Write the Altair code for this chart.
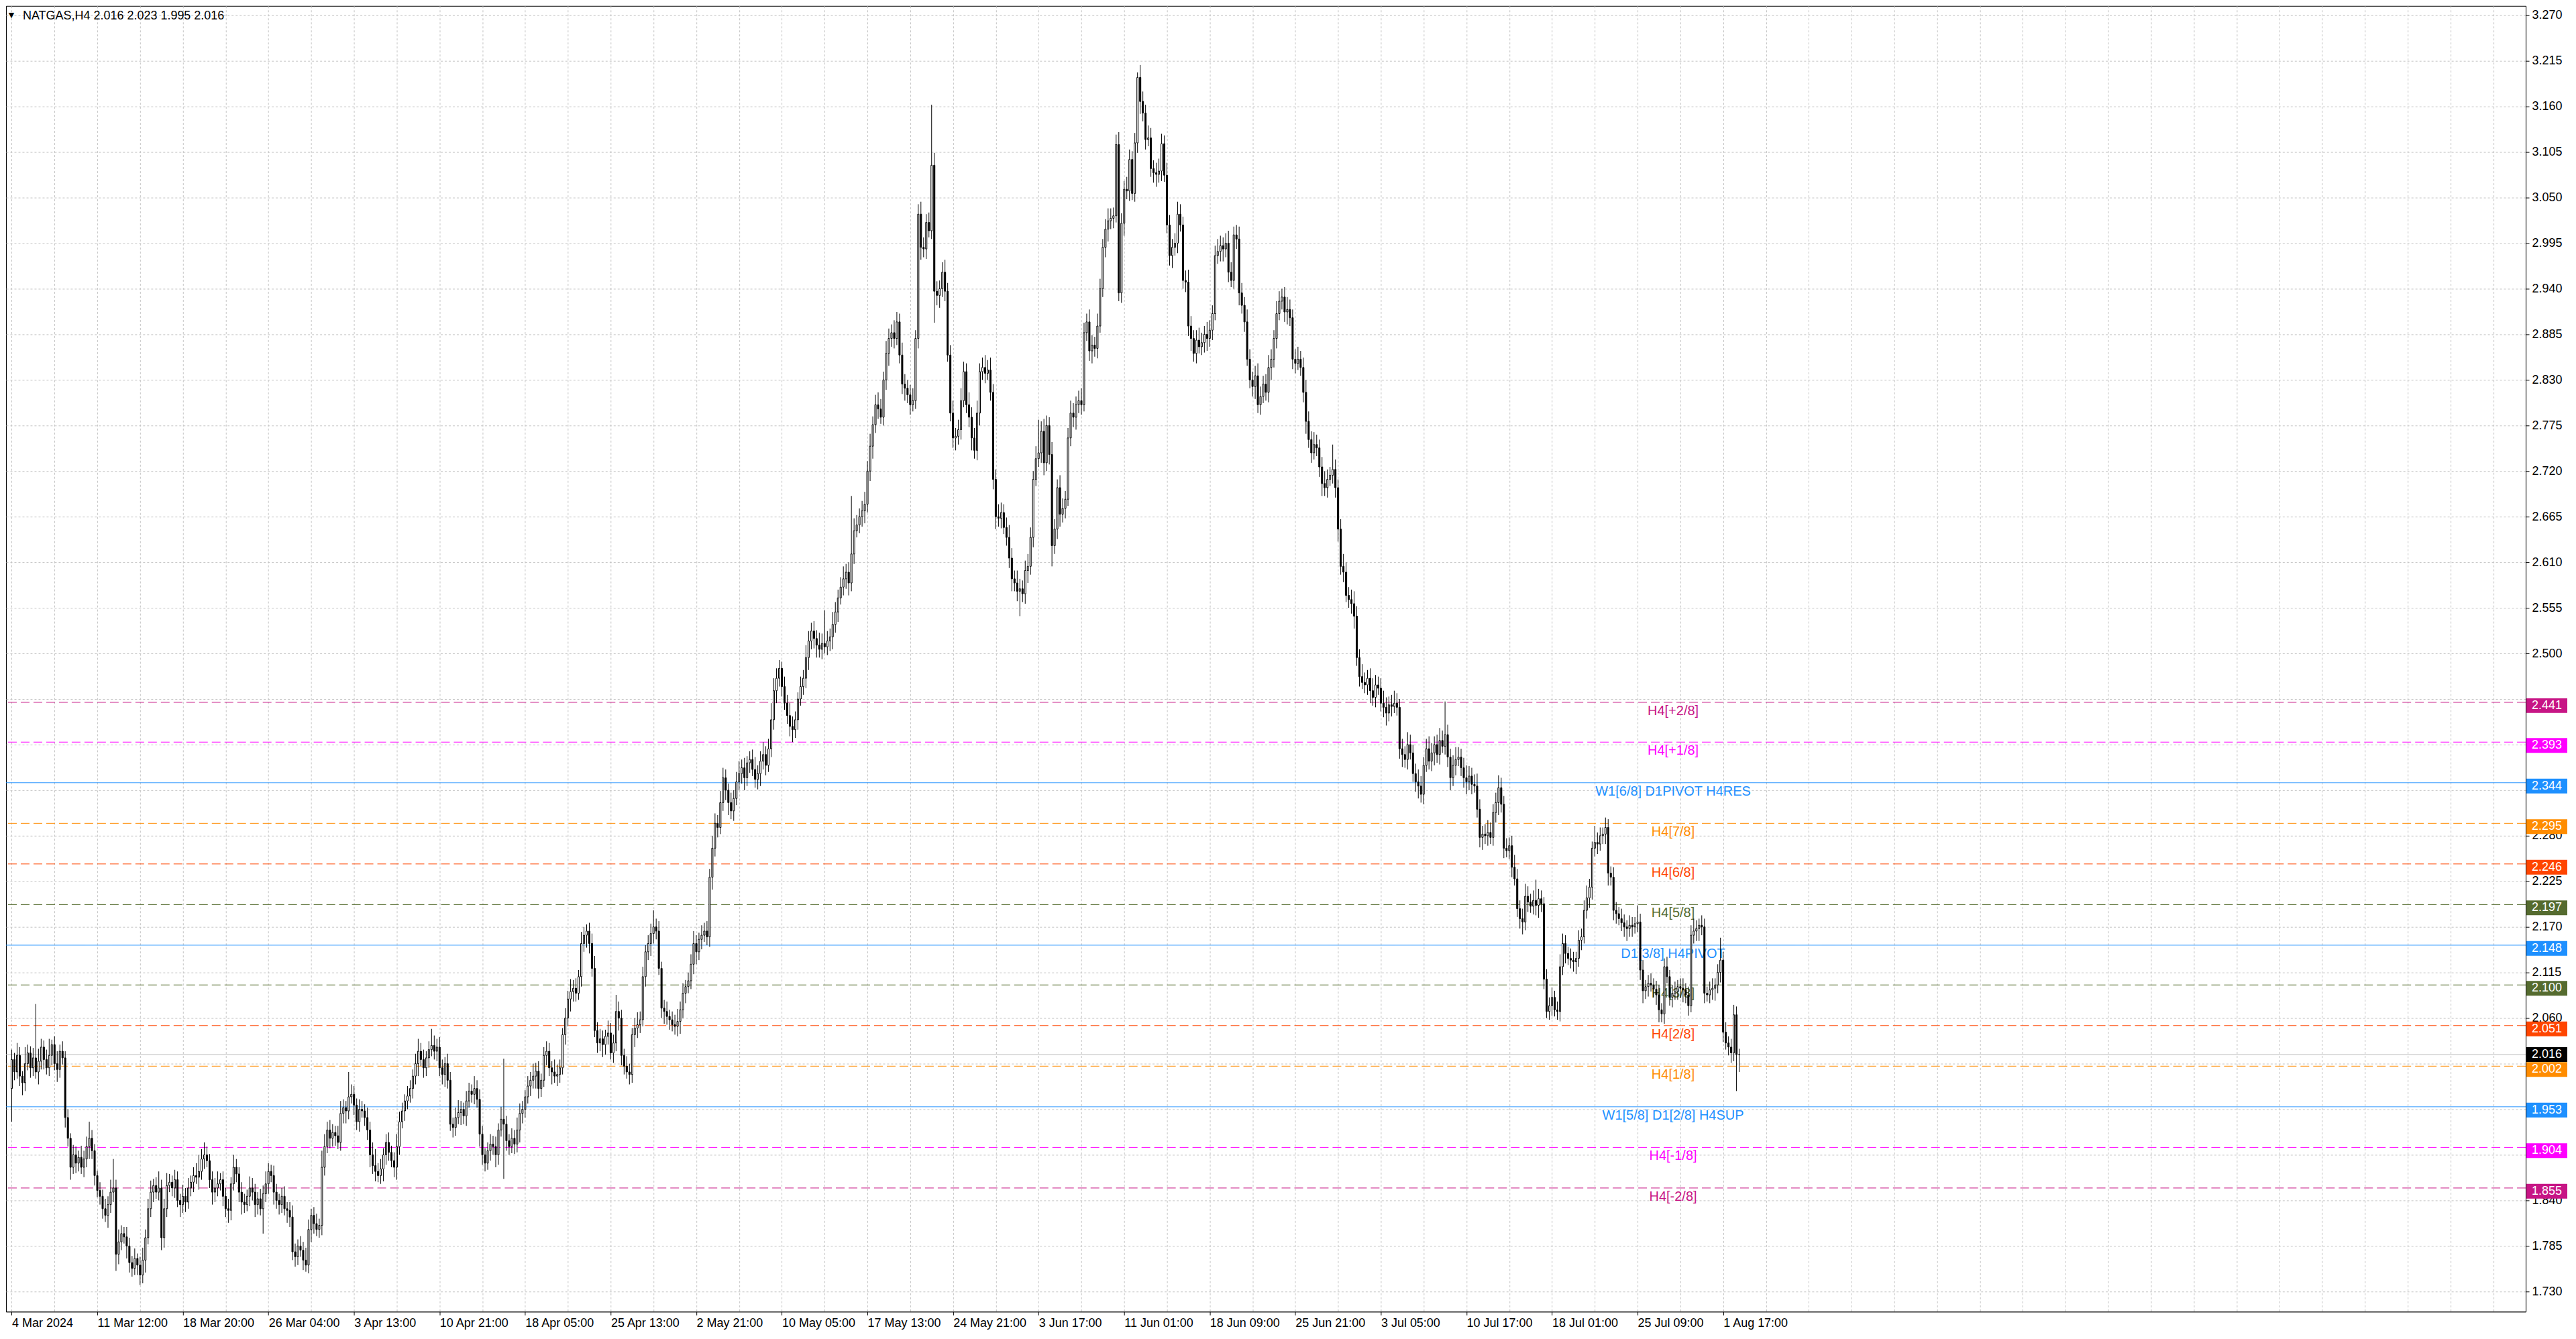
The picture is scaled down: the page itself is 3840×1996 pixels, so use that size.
import json
import altair as alt
import pandas as pd

TITLE = "NATGAS,H4  2.016 2.023 1.995 2.016"
FIRST_OPEN = 1975  # thousandths

# H4 closes (price * 1000)
CLOSES = [
    2010,1995,2015,1990,1982,2005,2018,2000,2012,1995,2008,2025,2010,2000,2015,2028,2005,1998,2020,2012,
    1940,1915,1880,1895,1885,1892,1880,1890,1905,1915,1900,1870,1852,1845,1830,1822,1835,1850,1855,1775,
    1790,1800,1796,1785,1765,1758,1770,1762,1750,1768,1795,1830,1850,1858,1850,1855,1795,1830,1858,1862,
    1855,1865,1840,1835,1845,1838,1855,1862,1870,1868,1875,1890,1895,1888,1865,1850,1855,1860,1865,1845,
    1830,1828,1860,1880,1872,1850,1838,1835,1845,1855,1850,1835,1842,1830,1848,1860,1875,1870,1850,1840,
    1835,1845,1830,1828,1820,1778,1772,1785,1780,1768,1762,1805,1822,1812,1805,1810,1880,1905,1925,1915,
    1922,1918,1910,1945,1952,1948,1965,1968,1955,1935,1950,1948,1940,1925,1895,1882,1875,1870,1878,1895,
    1910,1898,1888,1880,1905,1935,1948,1960,1966,1975,1990,2005,2020,2010,2000,2012,2022,2027,2020,2025,
    2000,1992,2005,1985,1932,1928,1940,1946,1950,1942,1960,1972,1968,1975,1962,1920,1895,1885,1900,1908,
    1905,1895,1925,1938,1932,1912,1905,1915,1908,1925,1945,1950,1965,1978,1985,1990,1996,1975,1985,2015,
    2020,2000,1995,1990,1992,2000,2040,2060,2083,2092,2096,2090,2110,2150,2160,2165,2150,2120,2045,2030,
    2035,2028,2038,2042,2018,2030,2068,2060,2015,2002,1995,1992,2040,2048,2052,2058,2110,2140,2150,2162,
    2170,2165,2120,2072,2068,2062,2058,2052,2050,2056,2070,2090,2098,2105,2125,2150,2140,2155,2160,2165,
    2158,2230,2265,2295,2290,2320,2350,2335,2320,2310,2325,2345,2355,2362,2350,2368,2372,2360,2348,2355,
    2370,2378,2365,2385,2420,2455,2470,2482,2460,2440,2425,2412,2408,2420,2445,2460,2470,2495,2515,2527,
    2518,2510,2505,2512,2508,2515,2520,2535,2550,2567,2580,2590,2598,2585,2620,2648,2655,2665,2672,2680,
    2720,2750,2776,2800,2795,2785,2830,2862,2880,2887,2880,2900,2860,2825,2820,2812,2800,2805,2880,3030,
    2990,2988,3020,3010,3089,2937,2932,2940,2960,2937,2860,2790,2760,2762,2770,2805,2840,2800,2785,2760,
    2745,2790,2840,2845,2838,2842,2815,2710,2665,2663,2670,2652,2640,2615,2590,2585,2575,2578,2572,2600,
    2605,2640,2710,2735,2742,2768,2730,2775,2740,2630,2650,2700,2668,2675,2686,2760,2790,2785,2800,2805,
    2800,2887,2900,2865,2872,2868,2895,2940,2990,3012,3022,3025,3028,3114,2935,3019,3060,3058,3096,3055,
    3116,3195,3166,3152,3120,3122,3085,3080,3078,3082,3115,3077,3017,2980,2990,2995,3030,3017,2950,2948,
    2895,2880,2862,2878,2870,2875,2885,2880,2890,2910,2980,2985,2992,2988,2995,2960,2950,3005,3000,2935,
    2920,2900,2855,2830,2822,2835,2800,2810,2825,2815,2845,2855,2880,2910,2925,2930,2912,2915,2905,2855,
    2850,2855,2845,2815,2780,2758,2742,2752,2748,2725,2705,2700,2710,2715,2722,2700,2650,2605,2598,2570,
    2565,2560,2545,2495,2472,2465,2462,2470,2455,2447,2462,2458,2440,2435,2428,2438,2436,2440,2435,2385,
    2378,2372,2390,2380,2355,2345,2340,2330,2365,2385,2370,2380,2390,2378,2395,2388,2402,2375,2350,2365,
    2372,2375,2362,2350,2345,2352,2342,2340,2312,2278,2282,2280,2284,2278,2308,2320,2338,2318,2265,2262,
    2268,2242,2228,2192,2180,2176,2207,2200,2195,2202,2196,2204,2198,2107,2068,2075,2085,2070,2068,2122,
    2150,2138,2132,2130,2128,2132,2154,2158,2190,2205,2218,2265,2272,2270,2280,2282,2290,2235,2230,2190,
    2186,2180,2175,2170,2168,2172,2170,2174,2176,2118,2093,2098,2102,2100,2095,2088,2070,2065,2122,2110,
    2085,2090,2092,2098,2096,2094,2088,2075,2160,2165,2168,2172,2170,2090,2088,2094,2096,2100,2115,2130,
    2043,2030,2025,2018,2064,2016,2016,
]

# upper wick above the body, thousandths
UPPER_WICK = [
    12,8,15,10,6,20,10,8,12,65,15,10,8,12,20,6,10,15,8,12,
    8,10,6,12,10,8,14,10,12,20,10,8,6,10,8,12,10,15,35,10,
    15,10,8,12,10,8,12,6,10,15,10,12,14,8,10,20,10,12,15,10,
    8,12,10,8,14,10,12,8,10,15,20,12,15,10,8,10,12,15,8,10,
    10,12,8,15,10,8,12,10,8,14,12,10,8,12,10,15,10,8,12,10,
    8,10,12,8,10,14,10,8,12,10,15,12,8,10,12,8,20,15,10,12,
    10,8,12,15,10,8,30,12,10,8,12,10,8,12,10,15,20,10,12,8,
    10,12,8,10,15,12,10,8,12,10,8,12,15,10,12,8,10,20,12,10,
    12,10,8,12,10,8,12,15,10,8,12,10,8,15,10,12,10,8,10,12,
    10,12,8,15,73,10,8,12,10,15,12,10,8,12,10,15,10,12,8,10,
    12,10,8,15,12,10,8,12,10,15,10,12,8,14,10,8,10,12,15,10,
    12,10,8,15,12,10,20,12,10,8,12,10,8,12,15,10,12,8,10,12,
    20,10,12,8,10,12,8,10,12,15,10,12,8,10,12,15,10,8,12,10,
    12,10,15,12,10,14,12,10,8,12,10,12,15,10,12,8,10,12,15,10,
    12,15,10,12,20,15,12,10,8,12,10,15,12,10,8,12,10,15,12,10,
    12,10,15,12,40,12,10,15,12,10,12,15,10,12,70,15,12,10,12,15,
    12,15,10,12,15,12,10,15,12,10,15,12,10,15,12,10,12,15,10,12,
    15,12,10,12,73,15,12,10,12,15,10,12,15,10,12,15,12,10,15,12,
    12,15,10,12,15,12,15,10,12,15,12,10,12,15,12,10,15,12,10,12,
    15,12,10,15,40,12,15,12,10,15,12,10,15,12,10,12,15,12,10,12,
    15,12,10,15,12,10,15,12,10,12,15,12,10,12,15,12,10,15,12,10,
    12,6,15,12,10,15,12,10,12,15,12,10,15,12,10,12,15,12,10,12,
    15,12,10,12,15,12,10,15,12,10,12,15,12,10,12,15,12,10,12,15,
    12,10,15,12,10,12,15,12,10,12,15,12,10,15,12,10,12,15,12,10,
    12,15,10,12,15,12,10,15,12,10,12,15,12,10,30,12,10,12,15,12,
    10,12,15,12,10,15,12,10,12,15,12,10,12,15,12,10,12,15,12,10,
    12,10,15,12,10,12,15,12,10,12,15,12,10,12,15,12,40,12,10,12,
    15,12,10,12,15,12,10,12,15,12,10,12,15,12,10,12,15,12,10,12,
    10,12,15,12,10,12,15,12,10,12,25,12,10,8,12,10,12,8,10,15,
    12,10,8,12,10,8,12,10,12,15,10,8,20,12,10,8,12,10,8,12,
    10,8,12,10,8,12,10,8,20,10,12,8,10,12,8,10,12,8,10,12,
    8,10,12,8,10,12,8,10,12,15,10,8,12,10,8,10,12,8,10,27,
    10,12,8,10,12,10,7,
]

# lower wick below the body, thousandths
LOWER_WICK = [
    40,10,8,12,15,10,8,12,10,8,15,10,12,8,10,12,8,15,10,8,
    12,10,15,8,12,10,8,12,10,15,10,12,8,10,12,8,15,10,12,20,
    12,10,8,15,12,10,8,12,12,10,15,8,10,12,8,10,15,12,10,8,
    10,12,8,15,10,12,8,10,12,8,15,10,12,8,10,15,12,10,8,12,
    10,15,12,8,10,12,15,10,8,12,10,15,12,8,30,10,12,8,15,10,
    12,10,8,15,12,10,12,10,8,12,8,10,15,12,8,10,12,10,8,12,
    10,12,8,10,12,15,10,8,12,10,12,8,10,12,15,10,12,8,10,15,
    12,10,8,12,15,10,8,12,10,8,12,10,15,8,12,10,12,8,10,12,
    10,12,15,10,8,12,10,8,15,10,12,8,10,12,10,15,12,10,8,12,
    10,15,12,8,66,12,10,8,12,10,15,12,10,8,12,10,15,12,10,8,
    12,10,15,8,12,10,8,12,10,15,12,10,8,12,10,15,12,10,8,12,
    10,15,12,10,8,12,10,15,12,10,8,12,10,15,12,10,8,12,10,15,
    12,10,8,12,15,10,12,8,10,12,15,10,12,8,10,12,15,10,12,8,
    10,12,15,10,12,8,10,12,15,10,12,8,10,12,15,10,12,8,10,12,
    15,10,12,8,10,12,15,10,12,8,10,12,15,10,12,8,10,12,15,10,
    12,15,10,12,8,10,12,15,10,12,8,10,12,15,10,12,8,10,12,15,
    10,12,15,10,12,8,10,12,15,10,12,8,10,12,15,10,12,8,10,12,
    15,10,12,8,10,38,12,15,10,12,8,10,12,15,10,12,8,10,12,15,
    10,12,15,10,12,8,10,12,15,10,12,8,10,12,15,10,12,30,10,12,
    15,10,12,8,10,12,15,10,12,25,10,12,15,10,12,8,10,12,15,10,
    12,8,10,12,15,10,12,8,10,12,15,10,12,8,10,12,15,10,12,8,
    10,12,15,10,12,8,10,12,15,10,12,8,10,12,15,10,12,8,10,12,
    12,15,10,12,8,10,12,15,10,12,8,10,12,15,10,12,8,10,12,15,
    10,12,8,10,12,15,10,12,8,10,12,15,10,12,8,10,12,15,10,12,
    12,8,10,12,15,10,12,8,10,12,15,10,12,8,10,12,15,10,12,8,
    10,12,15,10,12,8,10,12,15,10,12,8,10,12,15,10,12,8,10,12,
    15,10,12,8,10,12,15,10,12,8,10,12,15,10,12,8,10,12,15,10,
    12,8,10,12,15,10,12,8,10,12,15,10,12,8,10,12,15,10,12,8,
    10,12,8,10,12,15,10,12,8,10,12,15,10,12,8,10,12,8,10,12,
    10,12,8,10,12,15,10,12,8,10,12,15,10,12,8,10,12,15,10,12,
    12,8,10,12,15,10,12,8,10,12,15,10,12,8,10,12,15,10,12,8,
    10,12,8,10,12,15,10,12,8,10,12,15,10,12,8,10,12,15,10,12,
    12,8,10,12,10,44,21,
]

CURRENT_PRICE = 2.016
LEVEL_PRICES = [2.441, 2.393, 2.344, 2.295, 2.246, 2.197, 2.148, 2.100, 2.051, 2.002, 1.953, 1.904, 1.855]
LEVEL_NAMES = ["H4[+2/8]", "H4[+1/8]", "W1[6/8] D1PIVOT H4RES", "H4[7/8]", "H4[6/8]", "H4[5/8]",
               "D1[3/8] H4PIVOT", "H4[3/8]", "H4[2/8]", "H4[1/8]", "W1[5/8] D1[2/8] H4SUP",
               "H4[-1/8]", "H4[-2/8]"]
LEVEL_COLORS = ["#C71585", "#FF00FF", "#1E90FF", "#FF8C00", "#FF4500", "#556B2F",
                "#1E90FF", "#556B2F", "#FF4500", "#FF8C00", "#1E90FF", "#FF00FF", "#C71585"]
LEVEL_STYLES = ["dash", "dash", "solid", "dash", "dash", "dash", "solid", "dash", "dash", "dash",
                "solid", "dash", "dash"]

X_LABELS = ["4 Mar 2024", "11 Mar 12:00", "18 Mar 20:00", "26 Mar 04:00", "3 Apr 13:00",
            "10 Apr 21:00", "18 Apr 05:00", "25 Apr 13:00", "2 May 21:00", "10 May 05:00",
            "17 May 13:00", "24 May 21:00", "3 Jun 17:00", "11 Jun 01:00", "18 Jun 09:00",
            "25 Jun 21:00", "3 Jul 05:00", "10 Jul 17:00", "18 Jul 01:00", "25 Jul 09:00",
            "1 Aug 17:00"]
Y_TICKS = [1.730, 1.785, 1.840, 1.895, 1.950, 2.005, 2.060, 2.115, 2.170, 2.225, 2.280, 2.335,
           2.390, 2.445, 2.500, 2.555, 2.610, 2.665, 2.720, 2.775, 2.830, 2.885, 2.940, 2.995,
           3.050, 3.105, 3.160, 3.215, 3.270]
# price-scale labels that sit under a level tag in the reference
Y_TICKS_UNDER_TAGS = [2445, 2335, 2005, 1950, 1895]

# ---- build tables ----
n = min(len(CLOSES), len(UPPER_WICK), len(LOWER_WICK))
rows = []
prev = FIRST_OPEN
for i in range(n):
    o, c = prev, CLOSES[i]
    hi = max(o, c) + UPPER_WICK[i]
    lo = min(o, c) - LOWER_WICK[i]
    rows.append({"idx": i, "open": o / 1000, "close": c / 1000, "high": hi / 1000, "low": lo / 1000})
    prev = c
bars = pd.DataFrame(rows)

levels = pd.DataFrame({"price": LEVEL_PRICES, "name": LEVEL_NAMES, "color": LEVEL_COLORS,
                       "style": LEVEL_STYLES})
current = pd.DataFrame({"price": [CURRENT_PRICE], "color": ["#000000"]})
title_df = pd.DataFrame({"t": [TITLE], "tri": ["\u25BC"]})

W, H = 3759, 1948
FONT = "Liberation Sans"
xs = alt.Scale(domain=[-0.875, 938.875], nice=False, zero=False)
ys = alt.Scale(domain=[1.7058, 3.2813], nice=False, zero=False)

cond = "datum.value % 32 === 0 && datum.value <= 640"
x_axis = alt.Axis(
    values=list(range(0, 940, 16)),
    labelExpr=f"({cond}) ? {json.dumps(X_LABELS)}[datum.value / 32] : ''",
    labelAlign="left", labelBaseline="top", labelPadding=3, labelFontSize=18, labelFont=FONT,
    labelColor="black", labelOverlap=False, labelFlush=False,
    tickSize=5, tickColor={"condition": {"test": cond, "value": "black"}, "value": "transparent"},
    domainColor="black", grid=True, gridColor="#C4C4C4", gridDash=[3, 3], title=None,
)
y_axis = alt.Axis(
    orient="right", values=Y_TICKS,
    labelExpr=f"indexof({json.dumps(Y_TICKS_UNDER_TAGS)}, round(datum.value * 1000)) >= 0 ? '' : format(datum.value, '.3f')",
    labelFontSize=18, labelFont=FONT,
    labelColor="black", labelPadding=4, tickSize=5, tickColor="black", domainColor="black",
    grid=True, gridColor="#C4C4C4", gridDash=[3, 3], title=None, labelOverlap=False,
    labelFlush=False,
)

level_lines = alt.Chart(levels).mark_rule(strokeWidth=1).encode(
    y=alt.Y("price:Q", scale=ys, axis=y_axis),
    color=alt.Color("color:N", scale=None),
    strokeDash=alt.StrokeDash("style:N", scale=alt.Scale(domain=["solid", "dash"],
                                                          range=[[1, 0], [13, 6]]), legend=None),
)

current_line = alt.Chart(current).mark_rule(strokeWidth=1, color="#BDBDBD").encode(
    y=alt.Y("price:Q", scale=ys, axis=y_axis),
)

level_text = alt.Chart(levels).mark_text(
    align="center", baseline="top", dy=3, fontSize=20, font=FONT
).encode(
    x=alt.value(2487),
    y=alt.Y("price:Q", scale=ys, axis=y_axis),
    text="name:N",
    color=alt.Color("color:N", scale=None),
)

wicks = alt.Chart(bars).mark_rule(color="black", strokeWidth=1).encode(
    x=alt.X("idx:Q", scale=xs, axis=x_axis),
    y=alt.Y("low:Q", scale=ys, axis=y_axis),
    y2="high:Q",
)

bodies = alt.Chart(bars).mark_bar(size=2, stroke="black", strokeWidth=1).encode(
    x=alt.X("idx:Q", scale=xs, axis=x_axis),
    y=alt.Y("open:Q", scale=ys, axis=y_axis),
    y2="close:Q",
    fill=alt.condition("datum.close >= datum.open", alt.value("white"), alt.value("black")),
)

# level tags sit a few pixels below their line (as MT4 draws them); the bid tag is centred
tag_rects = alt.Chart(levels).transform_calculate(
    ylo="datum.price - 0.0129", yhi="datum.price + 0.0049"
).mark_rect().encode(
    x=alt.value(3760), x2=alt.value(3821),
    y=alt.Y("ylo:Q", scale=ys, axis=y_axis), y2="yhi:Q",
    color=alt.Color("color:N", scale=None),
)
tag_text = alt.Chart(levels).transform_calculate(
    ymid="datum.price - 0.004"
).mark_text(
    align="left", baseline="middle", fontSize=18, font=FONT, color="white"
).encode(
    x=alt.value(3768),
    y=alt.Y("ymid:Q", scale=ys, axis=y_axis),
    text=alt.Text("price:Q", format=".3f"),
)
cur_rect = alt.Chart(current).transform_calculate(
    ylo="datum.price - 0.0089", yhi="datum.price + 0.0089"
).mark_rect().encode(
    x=alt.value(3760), x2=alt.value(3821),
    y=alt.Y("ylo:Q", scale=ys, axis=y_axis), y2="yhi:Q",
    color=alt.Color("color:N", scale=None),
)
cur_text = alt.Chart(current).mark_text(
    align="left", baseline="middle", fontSize=18, font=FONT, color="white"
).encode(
    x=alt.value(3768),
    y=alt.Y("price:Q", scale=ys, axis=y_axis),
    text=alt.Text("price:Q", format=".3f"),
)

title_text = alt.Chart(title_df).mark_text(
    align="left", baseline="middle", fontSize=18, font=FONT, color="black"
).encode(x=alt.value(25), y=alt.value(15), text="t:N")

title_tri = alt.Chart(title_df).mark_text(
    align="center", baseline="middle", fontSize=11, font="DejaVu Sans", color="black"
).encode(x=alt.value(8), y=alt.value(14), text="tri:N")

chart = alt.layer(
    level_lines, current_line, level_text, wicks, bodies,
    tag_rects, tag_text, cur_rect, cur_text, title_text, title_tri
).properties(
    width=W, height=H, padding={"left": 0, "top": 0, "right": 5, "bottom": 5},
    background="white",
).configure_view(stroke="black", strokeWidth=1)

chart.save("out.html", embed_options={"renderer": "svg", "actions": False})
